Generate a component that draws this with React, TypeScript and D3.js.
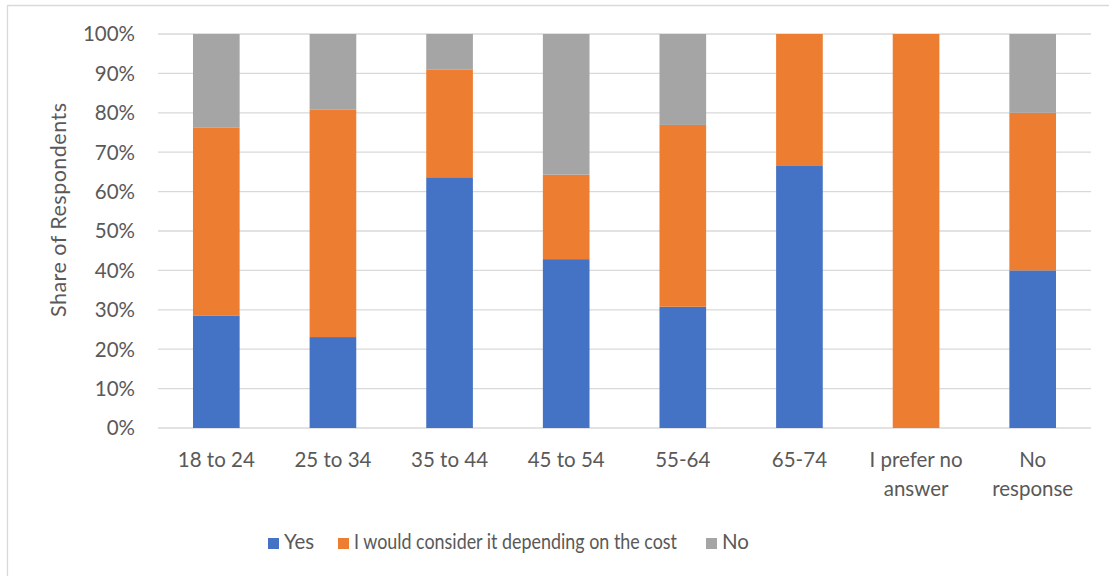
import React from "react";
import * as d3 from "d3";

const categories: string[][] = [
  ["18 to 24"],
  ["25 to 34"],
  ["35 to 44"],
  ["45 to 54"],
  ["55-64"],
  ["65-74"],
  ["I prefer no", "answer"],
  ["No", "response"],
];
const seriesNames = ["Yes", "I would consider it depending on the cost", "No"];
const yesValues = [28.57, 23.08, 63.64, 42.86, 30.77, 66.67, 0, 40];
const considerValues = [47.62, 57.69, 27.27, 21.43, 46.15, 33.33, 100, 40];
const noValues = [23.81, 19.23, 9.09, 35.71, 23.08, 0, 0, 20];
const yTicks = [0, 10, 20, 30, 40, 50, 60, 70, 80, 90, 100];
const colors = ["#4472C4", "#ED7D31", "#A5A5A5"];

const W = 1109;
const H = 576;
const FONT = "Lato, sans-serif";
const TXT = "#595959";
const FS = 20.5;

export default function App() {
  const plot = { left: 158, right: 1091, top: 34, bottom: 428 };
  const x = d3
    .scaleBand<number>()
    .domain(d3.range(categories.length))
    .range([plot.left, plot.right])
    .paddingInner(0.6)
    .paddingOuter(0.3);
  const y = d3.scaleLinear().domain([0, 100]).range([plot.bottom, plot.top]);

  const rows = categories.map((_, i) => ({
    i,
    s0: yesValues[i],
    s1: considerValues[i],
    s2: noValues[i],
  }));
  const stack = d3.stack<any>().keys(["s0", "s1", "s2"]);
  const layers = stack(rows);

  const legendItems = [
    { x: 268, label: seriesNames[0], len: 0 },
    { x: 338, label: seriesNames[1], len: 323 },
    { x: 706, label: seriesNames[2], len: 0 },
  ];

  return (
    <svg
      width={W}
      height={H}
      style={{ position: "absolute", left: 0, top: 0, background: "#fff" }}
      fontFamily={FONT}
    >
      <rect x={0} y={0} width={W} height={H} fill="#fff" />
      {/* outer frame */}
      <path d={`M7.5,${H} V5.5 H${W}`} fill="none" stroke="#d9d9d9" strokeWidth={1.3} />

      {/* gridlines */}
      {yTicks.map((t) => (
        <line
          key={t}
          x1={plot.left}
          x2={plot.right}
          y1={y(t)}
          y2={y(t)}
          stroke="#d9d9d9"
          strokeWidth={1.3}
        />
      ))}

      {/* y tick labels */}
      {yTicks.map((t) => (
        <text
          key={t}
          x={135}
          y={y(t)}
          dy="0.36em"
          textAnchor="end"
          fontSize={FS}
          fill={TXT}
        >
          {t}%
        </text>
      ))}

      {/* y axis title */}
      <text
        transform={`translate(66,210) rotate(-90)`}
        textAnchor="middle"
        fontSize={21.5}
        fill={TXT}
        textLength={214}
        lengthAdjust="spacing"
      >
        Share of Respondents
      </text>

      {/* bars */}
      {layers.map((layer, li) => (
        <g key={li} fill={colors[li]}>
          {layer.map((d, i) =>
            d[1] - d[0] > 0 ? (
              <rect
                key={i}
                x={x(i)}
                width={x.bandwidth()}
                y={y(d[1])}
                height={y(d[0]) - y(d[1])}
              />
            ) : null
          )}
        </g>
      ))}

      {/* x labels */}
      {categories.map((lines, i) => (
        <text
          key={i}
          x={(x(i) as number) + x.bandwidth() / 2}
          y={467}
          textAnchor="middle"
          fontSize={FS}
          fill={TXT}
        >
          {lines.map((ln, k) => (
            <tspan key={k} x={(x(i) as number) + x.bandwidth() / 2} dy={k === 0 ? 0 : 28.5}>
              {ln}
            </tspan>
          ))}
        </text>
      ))}

      {/* legend */}
      {legendItems.map((it, i) => (
        <g key={i}>
          <rect x={it.x} y={538} width={11} height={11} fill={colors[i]} />
          <text
            x={it.x + 16}
            y={549}
            fontSize={FS}
            fill={TXT}
            {...(it.len ? { textLength: it.len, lengthAdjust: "spacingAndGlyphs" } : {})}
          >
            {it.label}
          </text>
        </g>
      ))}
    </svg>
  );
}
